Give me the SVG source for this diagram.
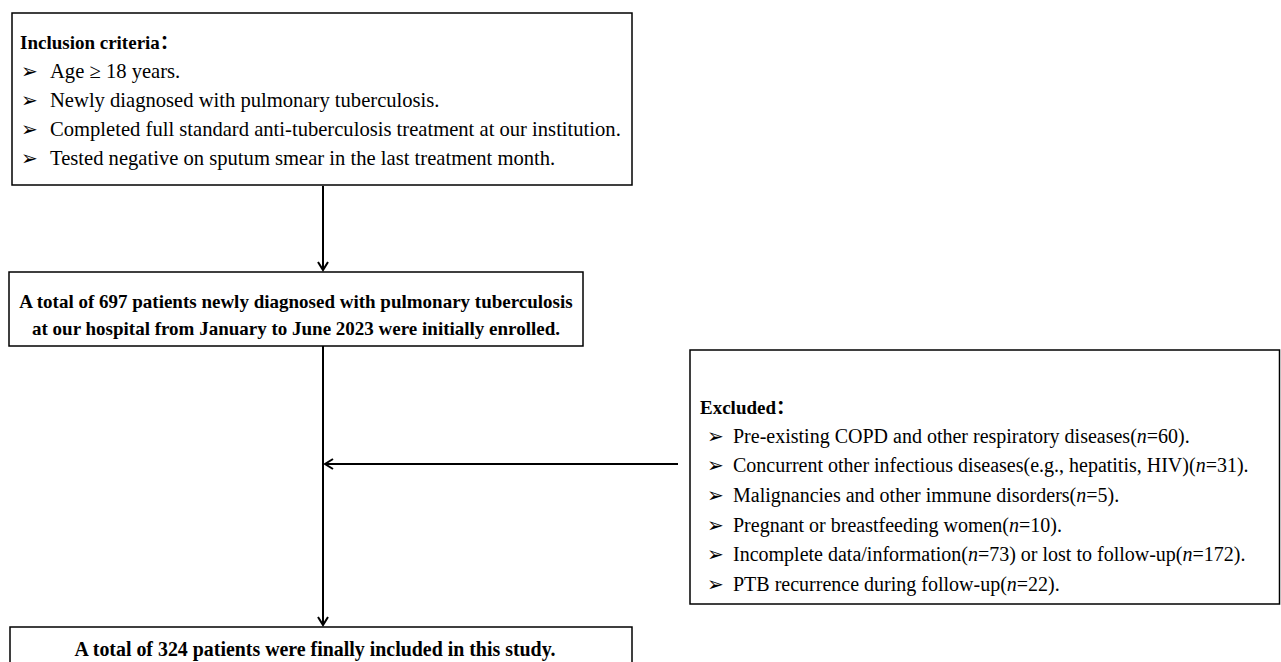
<svg xmlns="http://www.w3.org/2000/svg" width="1281" height="662" viewBox="0 0 1281 662">
<style>
.box{fill:#fff;stroke:#000;stroke-width:1.5}
.t{font-family:"Liberation Serif","DejaVu Serif","Noto Sans CJK SC",serif;font-size:20px;fill:#000}
.top{font-size:20.6px}
.b{font-weight:bold;font-size:19px}
.bf{font-size:19.9px}
.bul{font-family:"DejaVu Sans",sans-serif;font-size:20px;fill:#000}
.c{text-anchor:middle}
.conn{stroke:#000;stroke-width:2;fill:none}
</style>
<defs>
<marker id="ah" markerWidth="14" markerHeight="14" refX="10" refY="6" orient="auto" markerUnits="userSpaceOnUse">
<path d="M2,1 L10,6 L2,11" fill="none" stroke="#000" stroke-width="2"/>
</marker>
</defs>
<rect width="1281" height="662" fill="#fff"/>
<g id="connectors">
<line class="conn" x1="323" y1="186" x2="323" y2="270" marker-end="url(#ah)"/>
<line class="conn" x1="323" y1="346" x2="323" y2="625" marker-end="url(#ah)"/>
<line class="conn" x1="678" y1="464" x2="325" y2="464" marker-end="url(#ah)"/>
</g>
<g id="inclusion">
<rect class="box" x="12" y="13" width="620" height="172"/>
<text class="t b" x="20" y="49">Inclusion criteria：</text>
<text class="bul" x="21" y="78">➢</text><text class="t top" x="50" y="78">Age ≥ 18 years.</text>
<text class="bul" x="21" y="107">➢</text><text class="t top" x="50" y="107">Newly diagnosed with pulmonary tuberculosis.</text>
<text class="bul" x="21" y="136">➢</text><text class="t top" x="50" y="136">Completed full standard anti-tuberculosis treatment at our institution.</text>
<text class="bul" x="21" y="165">➢</text><text class="t top" x="50" y="165">Tested negative on sputum smear in the last treatment month.</text>
</g>
<g id="enrolled">
<rect class="box" x="9" y="272" width="574" height="74"/>
<text class="t b c" x="296" y="308">A total of 697 patients newly diagnosed with pulmonary tuberculosis</text>
<text class="t b c" x="296" y="335">at our hospital from January to June 2023 were initially enrolled.</text>
</g>
<g id="excluded">
<rect class="box" x="690" y="350" width="589.5" height="254"/>
<text class="t b" x="700" y="414">Excluded：</text>
<text class="bul" x="707" y="443">➢</text><text class="t" x="733" y="443">Pre-existing COPD and other respiratory diseases(<tspan font-style="italic">n</tspan>=60).</text>
<text class="bul" x="707" y="472">➢</text><text class="t" x="733" y="472">Concurrent other infectious diseases(e.g., hepatitis, HIV)(<tspan font-style="italic">n</tspan>=31).</text>
<text class="bul" x="707" y="502">➢</text><text class="t" x="733" y="502">Malignancies and other immune disorders(<tspan font-style="italic">n</tspan>=5).</text>
<text class="bul" x="707" y="532">➢</text><text class="t" x="733" y="532">Pregnant or breastfeeding women(<tspan font-style="italic">n</tspan>=10).</text>
<text class="bul" x="707" y="561">➢</text><text class="t" x="733" y="561">Incomplete data/information(<tspan font-style="italic">n</tspan>=73) or lost to follow-up(<tspan font-style="italic">n</tspan>=172).</text>
<text class="bul" x="707" y="591">➢</text><text class="t" x="733" y="591">PTB recurrence during follow-up(<tspan font-style="italic">n</tspan>=22).</text>
</g>
<g id="final">
<rect class="box" x="10" y="627" width="622" height="60"/>
<text class="t b bf c" x="315" y="656">A total of 324 patients were finally included in this study.</text>
</g>
</svg>
